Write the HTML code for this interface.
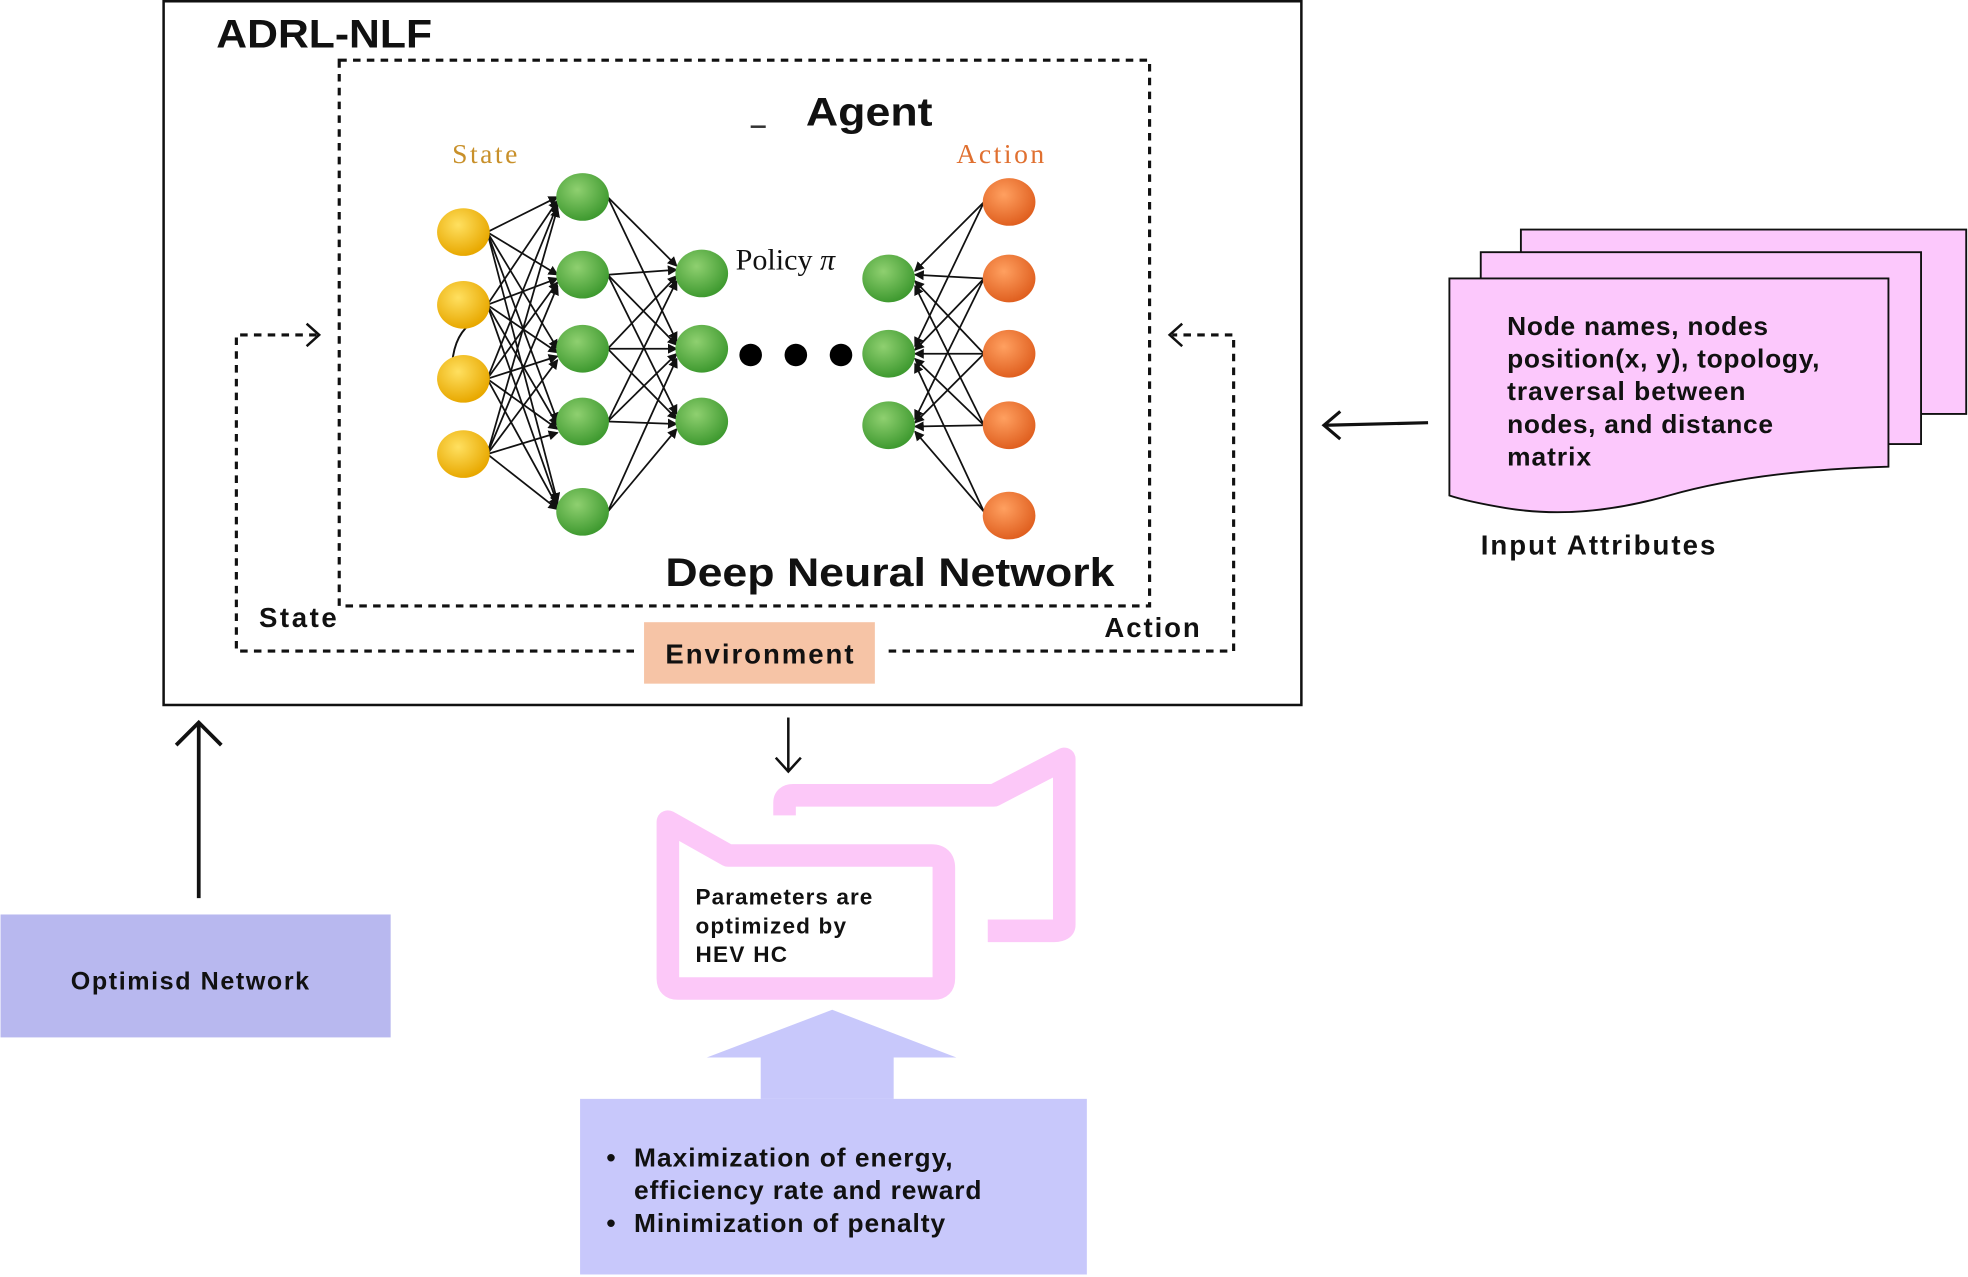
<!DOCTYPE html>
<html><head><meta charset="utf-8"><style>
html,body{margin:0;padding:0;background:#fff;}
svg{display:block;}
text{font-family:"Liberation Sans",sans-serif;font-weight:bold;fill:#111;}
.serif{font-family:"Liberation Serif",serif;font-weight:normal;}
</style></head><body>
<svg width="1968" height="1277" viewBox="0 0 1568 1018" xmlns="http://www.w3.org/2000/svg">
<defs>
<marker id="ah" markerWidth="8" markerHeight="8" refX="7" refY="4" orient="auto" markerUnits="userSpaceOnUse"><path d="M0,0 L8,4 L0,8 z" fill="#111"/></marker>
<radialGradient id="gy" cx="40%" cy="35%" r="65%"><stop offset="0" stop-color="#ffe060"/><stop offset="1" stop-color="#e8a800"/></radialGradient>
<radialGradient id="gg" cx="40%" cy="35%" r="65%"><stop offset="0" stop-color="#8fd070"/><stop offset="1" stop-color="#3f9a30"/></radialGradient>
<radialGradient id="go" cx="40%" cy="35%" r="65%"><stop offset="0" stop-color="#ffa060"/><stop offset="1" stop-color="#e06020"/></radialGradient>
</defs>
<rect x="130" y="1" width="907" height="561" fill="none" stroke="#111" stroke-width="2"/>
<text x="172" y="38" font-size="32" textLength="172" lengthAdjust="spacingAndGlyphs">ADRL-NLF</text>
<rect x="270" y="48" width="646" height="435" fill="none" stroke="#111" stroke-width="2.5" stroke-dasharray="6,5"/>
<text x="642" y="100" font-size="32" textLength="101" lengthAdjust="spacingAndGlyphs">Agent</text>
<line x1="598" y1="101" x2="610" y2="101" stroke="#333" stroke-width="2"/>
<text x="360" y="130" font-size="22" class="serif" style="fill:#c8902a" textLength="52">State</text>
<text x="762" y="130" font-size="22" class="serif" style="fill:#e07030" textLength="70">Action</text>
<text x="586" y="215" font-size="24" class="serif">Policy <tspan font-style="italic">π</tspan></text>
<g stroke="#111" stroke-width="1.4" marker-end="url(#ah)">
<line x1="388" y1="185" x2="444" y2="157"/><line x1="388" y1="185" x2="444" y2="219"/><line x1="388" y1="185" x2="444" y2="278"/><line x1="388" y1="185" x2="444" y2="336"/><line x1="388" y1="185" x2="444" y2="400"/>
<line x1="388" y1="243" x2="444" y2="160"/><line x1="388" y1="243" x2="444" y2="222"/><line x1="388" y1="243" x2="444" y2="281"/><line x1="388" y1="243" x2="444" y2="339"/><line x1="388" y1="243" x2="444" y2="402"/>
<line x1="388" y1="302" x2="444" y2="163"/><line x1="388" y1="302" x2="444" y2="225"/><line x1="388" y1="302" x2="444" y2="284"/><line x1="388" y1="302" x2="444" y2="342"/><line x1="388" y1="302" x2="444" y2="404"/>
<line x1="388" y1="362" x2="444" y2="166"/><line x1="388" y1="362" x2="444" y2="228"/><line x1="388" y1="362" x2="444" y2="287"/><line x1="388" y1="362" x2="444" y2="345"/><line x1="388" y1="362" x2="444" y2="406"/>
<line x1="484" y1="157" x2="539" y2="212"/><line x1="484" y1="157" x2="539" y2="272"/>
<line x1="484" y1="219" x2="539" y2="215"/><line x1="484" y1="219" x2="539" y2="275"/><line x1="484" y1="219" x2="539" y2="330"/>
<line x1="484" y1="278" x2="539" y2="220"/><line x1="484" y1="278" x2="539" y2="278"/><line x1="484" y1="278" x2="539" y2="334"/>
<line x1="484" y1="336" x2="539" y2="224"/><line x1="484" y1="336" x2="539" y2="282"/><line x1="484" y1="336" x2="539" y2="338"/>
<line x1="484" y1="408" x2="539" y2="286"/><line x1="484" y1="408" x2="539" y2="342"/>
<line x1="784" y1="161" x2="729" y2="216"/><line x1="784" y1="161" x2="729" y2="276"/>
<line x1="784" y1="222" x2="729" y2="219"/><line x1="784" y1="222" x2="729" y2="279"/><line x1="784" y1="222" x2="729" y2="334"/>
<line x1="784" y1="282" x2="729" y2="224"/><line x1="784" y1="282" x2="729" y2="282"/><line x1="784" y1="282" x2="729" y2="337"/>
<line x1="784" y1="339" x2="729" y2="228"/><line x1="784" y1="339" x2="729" y2="286"/><line x1="784" y1="339" x2="729" y2="340"/>
<line x1="784" y1="408" x2="729" y2="290"/><line x1="784" y1="408" x2="729" y2="344"/>
</g>
<path d="M360,290 Q362,265 378,256" fill="none" stroke="#111" stroke-width="1.5"/>
<g>
<ellipse cx="369" cy="185" rx="21" ry="19" fill="url(#gy)"/><ellipse cx="369" cy="243" rx="21" ry="19" fill="url(#gy)"/><ellipse cx="369" cy="302" rx="21" ry="19" fill="url(#gy)"/><ellipse cx="369" cy="362" rx="21" ry="19" fill="url(#gy)"/>
<ellipse cx="464" cy="157" rx="21" ry="19" fill="url(#gg)"/><ellipse cx="464" cy="219" rx="21" ry="19" fill="url(#gg)"/><ellipse cx="464" cy="278" rx="21" ry="19" fill="url(#gg)"/><ellipse cx="464" cy="336" rx="21" ry="19" fill="url(#gg)"/><ellipse cx="464" cy="408" rx="21" ry="19" fill="url(#gg)"/>
<ellipse cx="559" cy="218" rx="21" ry="19" fill="url(#gg)"/><ellipse cx="559" cy="278" rx="21" ry="19" fill="url(#gg)"/><ellipse cx="559" cy="336" rx="21" ry="19" fill="url(#gg)"/>
<ellipse cx="708" cy="222" rx="21" ry="19" fill="url(#gg)"/><ellipse cx="708" cy="282" rx="21" ry="19" fill="url(#gg)"/><ellipse cx="708" cy="339" rx="21" ry="19" fill="url(#gg)"/>
<ellipse cx="804" cy="161" rx="21" ry="19" fill="url(#go)"/><ellipse cx="804" cy="222" rx="21" ry="19" fill="url(#go)"/><ellipse cx="804" cy="282" rx="21" ry="19" fill="url(#go)"/><ellipse cx="804" cy="339" rx="21" ry="19" fill="url(#go)"/><ellipse cx="804" cy="411" rx="21" ry="19" fill="url(#go)"/>
<circle cx="598" cy="283" r="9" fill="#000"/><circle cx="634" cy="283" r="9" fill="#000"/><circle cx="670" cy="283" r="9" fill="#000"/>
</g>
<text x="530" y="467" font-size="32" textLength="358" lengthAdjust="spacingAndGlyphs">Deep Neural Network</text>
<path d="M505,519 H188 V267 H252" fill="none" stroke="#111" stroke-width="2.5" stroke-dasharray="6,5"/>
<path d="M244,258 L254,267 L244,276" fill="none" stroke="#111" stroke-width="2"/>
<path d="M708,519 H983 V267 H934" fill="none" stroke="#111" stroke-width="2.5" stroke-dasharray="6,5"/>
<path d="M942,258 L932,267 L942,276" fill="none" stroke="#111" stroke-width="2"/>
<text x="206" y="500" font-size="22" textLength="62">State</text>
<text x="880" y="508" font-size="22" textLength="76">Action</text>
<rect x="513" y="496" width="184" height="49" fill="#f6c4a6"/>
<text x="530" y="529" font-size="22" textLength="150">Environment</text>
<line x1="628" y1="572" x2="628" y2="614" stroke="#111" stroke-width="2"/>
<path d="M618,604 L628,615 L638,604" fill="none" stroke="#111" stroke-width="2"/>
<line x1="158" y1="716" x2="158" y2="578" stroke="#111" stroke-width="3"/>
<path d="M140,594 L158,576 L176,594" fill="none" stroke="#111" stroke-width="3"/>
<rect x="0" y="729" width="311" height="98" fill="#b8b8ef"/>
<text x="56" y="789" font-size="20" textLength="190">Optimisd Network</text>
<path d="M625,650 V640 Q625,634 632,634 H792 L848,605 V737 Q848,742 840,742 H787" fill="none" stroke="#fcc8f8" stroke-width="18" stroke-linejoin="round"/>
<path d="M532,655 L580,682 H742 Q752,682 752,692 V780 Q752,788 744,788 H540 Q532,788 532,780 Z" fill="#fff" stroke="#fcc8f8" stroke-width="18" stroke-linejoin="round"/>
<text font-size="18"><tspan x="554" y="721" textLength="141">Parameters are</tspan><tspan x="554" y="744" textLength="120">optimized by</tspan><tspan x="554" y="767" textLength="73">HEV HC</tspan></text>
<path d="M563,843 L663,805 L762,843 H712 V876 H606 V843 Z" fill="#c8c8fb"/>
<rect x="462" y="876" width="404" height="140" fill="#c8c8fb"/>
<text font-size="21"><tspan x="483" y="930">•</tspan><tspan x="505" y="930" textLength="254">Maximization of energy,</tspan><tspan x="505" y="956" textLength="277">efficiency rate and reward</tspan><tspan x="483" y="982">•</tspan><tspan x="505" y="982" textLength="248">Minimization of penalty</tspan></text>
<path d="M1212,183 H1567 V330 H1212 Z" fill="#fcc8fc" stroke="#111" stroke-width="1.5"/>
<path d="M1180,201 H1531 V354 H1180 Z" fill="#fcc8fc" stroke="#111" stroke-width="1.5"/>
<path d="M1155,222 H1505 V372 Q1400,375 1330,395 Q1260,415 1200,405 Q1170,400 1155,395 Z" fill="#fcc8fc" stroke="#111" stroke-width="1.5"/>
<text font-size="21"><tspan x="1201" y="267" textLength="208">Node names, nodes</tspan><tspan x="1201" y="293" textLength="249">position(x, y), topology,</tspan><tspan x="1201" y="319" textLength="190">traversal between</tspan><tspan x="1201" y="345" textLength="212">nodes, and distance</tspan><tspan x="1201" y="371" textLength="67">matrix</tspan></text>
<text x="1180" y="442" font-size="22" textLength="187">Input Attributes</text>
<line x1="1138" y1="337" x2="1056" y2="339" stroke="#111" stroke-width="2.5"/>
<path d="M1068,328 L1055,339 L1068,350" fill="none" stroke="#111" stroke-width="2.5"/>
</svg>
</body></html>
